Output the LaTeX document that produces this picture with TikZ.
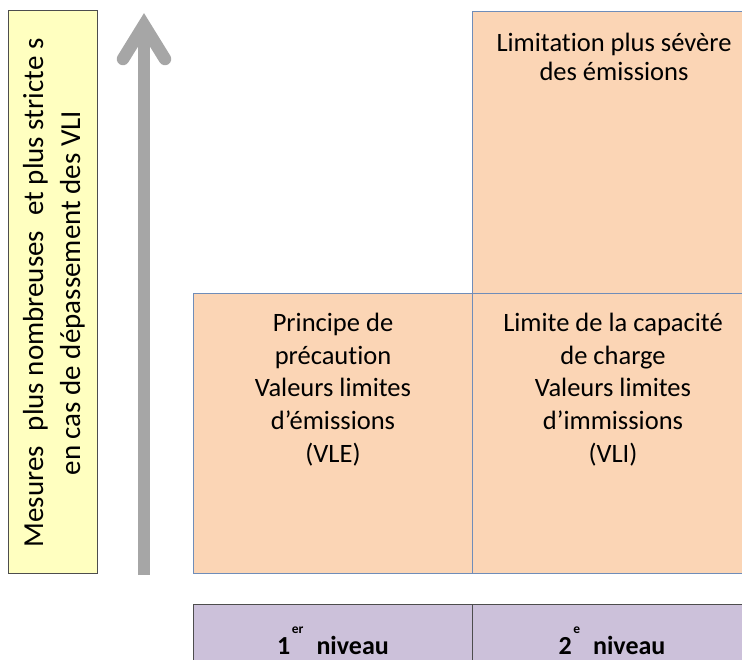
\documentclass[tikz,border=0pt]{standalone}
\usepackage{fontspec}
\setmainfont{Carlito}[Ligatures=NoCommon]
\begin{document}
\begin{tikzpicture}[x=1pt,y=-1pt,
  cell/.style={draw=celledge, line width=0.8pt, fill=cellfill},
  level/.style={draw=leveledge, line width=0.8pt, fill=levelfill},
  celltext/.style={font=\fontsize{26.5}{32.8}\selectfont, align=center, anchor=north, inner sep=0pt},
  leveltext/.style={font=\bfseries\fontsize{26}{30}\selectfont, anchor=base, inner sep=0pt}]
\definecolor{cellfill}{HTML}{FBD5B5}
\definecolor{celledge}{HTML}{6F8DB9}
\definecolor{levelfill}{HTML}{CCC1DA}
\definecolor{leveledge}{HTML}{4D4D4D}
\definecolor{notefill}{HTML}{FFFFC0}
\definecolor{arrowgray}{HTML}{A6A6A6}
\newcommand{\firstline}{\rule{0pt}{20pt}}
\newcommand{\supmark}[1]{\hspace{1.5pt}\raisebox{21pt}{\fontsize{13.5}{13.5}\selectfont #1}\hspace{13pt}}
\newcommand{\wide}{\hspace{15pt}}
\useasboundingbox (0,0) rectangle (742,659);

% yellow side note, read bottom to top
\draw[fill=notefill, draw=leveledge, line width=0.8pt] (8,10) rectangle (97,573);
\node[rotate=90, font=\fontsize{29}{37}\selectfont, align=center, inner sep=0pt] (note) at (54,293)
  {Mesures\wide plus nombreuses\wide et plus stricte s\\en cas de dépassement des VLI};

% upward arrow: shaft plus open chevron head
\coordinate (abot) at (144,575);
\coordinate (atop) at (144,25);
\draw[arrowgray, line width=12.5pt] (abot) -- ([yshift=-4]atop);
\draw[arrowgray, line width=12.5pt, line cap=round, line join=miter]
  ([xshift=-21,yshift=-34]atop) -- (atop) -- ([xshift=21,yshift=-34]atop);

% orange cells
\draw[cell] (472,11) rectangle (742,293);
\draw[cell] (193,293) rectangle (472,573);
\draw[cell] (472,293) rectangle (742,573);
\node[celltext, font=\fontsize{26.5}{29}\selectfont] (c3) at (614,31)
  {\firstline Limitation plus sévère\\des émissions};
\node[celltext] (c1) at (333,311)
  {\firstline Principe de\\précaution\\Valeurs limites\\d’émissions\\(VLE)};
\node[celltext] (c2) at (613,311)
  {\firstline Limite de la capacité\\de charge\\Valeurs limites\\d’immissions\\(VLI)};

% level headers
\draw[level] (193,604) rectangle (472,670);
\draw[level] (472,604) rectangle (742,670);
\node[leveltext] (l1) at (333,654) {1\supmark{er}niveau};
\node[leveltext] (l2) at (612,654) {2\supmark{e}niveau};
\end{tikzpicture}
\end{document}
